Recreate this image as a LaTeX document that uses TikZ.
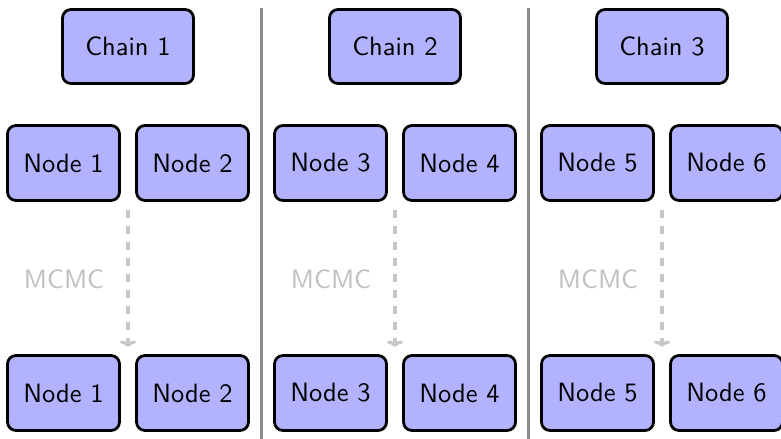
\documentclass[tikz,border=0pt]{standalone}
\usetikzlibrary{arrows.meta,calc}
\begin{document}
\begin{tikzpicture}[x=0.4pt,y=-0.4pt,
  font=\sffamily\fontsize{10.6}{12}\selectfont,
  box/.style={draw=black,line width=1.1pt,rounded corners=3.4pt,fill=blue!30,
    minimum width=44.8pt,minimum height=30pt,inner sep=0pt},
  chainbox/.style={box,minimum width=52.4pt,minimum height=29.6pt},
  divider/.style={draw=black!45,line width=1.2pt},
  mcmcarrow/.style={draw=black!22,line width=1.4pt,dash pattern=on 3.3pt off 3.1pt,
    -{To[length=2.6pt,width=6.4pt,line width=1.3pt]}},
  mcmclabel/.style={text=black!25}]
\useasboundingbox (0,0) rectangle (781,439);

% three chains, each with a pair of nodes before and after the MCMC step
\foreach \k/\a/\b in {0/1/2,1/3/4,2/5/6}{
  \begin{scope}[xshift=\k*267*0.4pt]
    \node[chainbox] (chain\k) at (128,46.5) {Chain \the\numexpr\k+1\relax};
    \node[box] (top\a) at (63.5,163) {Node \a};
    \node[box] (top\b) at (192.5,163) {Node \b};
    \node[box] (bot\a) at (63.5,393) {Node \a};
    \node[box] (bot\b) at (192.5,393) {Node \b};
    \coordinate (from\k) at (128,210);
    \coordinate (to\k) at (128,347);
    \draw[mcmcarrow] (from\k) -- (to\k);
    \node[mcmclabel] (mcmc\k) at (64,279) {MCMC};
  \end{scope}
}

% separators between the chains
\coordinate (sepA1) at (261,8);
\coordinate (sepA2) at (261,439);
\coordinate (sepB1) at (528,8);
\coordinate (sepB2) at (528,439);
\draw[divider] (sepA1) -- (sepA2);
\draw[divider] (sepB1) -- (sepB2);
\end{tikzpicture}
\end{document}
